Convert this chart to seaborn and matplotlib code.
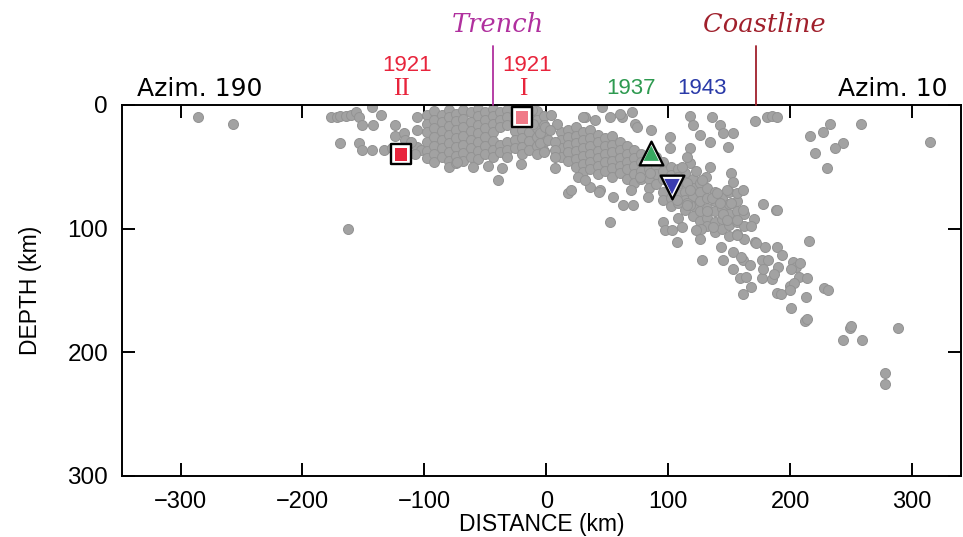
import matplotlib
matplotlib.use("Agg")
import matplotlib.pyplot as plt
import seaborn as sns
import pandas as pd

# ---------------- data: (distance km, depth km) ----------------
outliers = [(-286, 10), (-257, 15), (-163, 100), (315, 30), (233, 15), (258, 15),
            (216, 25), (227, 22), (243, 31), (237, 35), (220, 39), (230, 51),
            (188, 85), (215, 110), (249, 180), (243, 190), (259, 190), (288, 180),
            (278, 217), (278, 226)]

shallow_west = [(-177, 10), (-172, 10), (-169, 9), (-164, 9), (-160, 8), (-156, 6),
                (-154, 10), (-143, 2), (-136, 8), (-151, 16), (-142, 16), (-124, 16),
                (-124, 25), (-117, 23), (-116, 28), (-106, 10), (-106, 34), (-169, 31),
                (-154, 31), (-151, 36), (-143, 36), (-133, 36), (-127, 35), (-103, 36),
                (-108, 40), (-111, 30), (-106, 20)]

dense_trench = [(-98, 8), (-98, 15), (-98, 22), (-98, 30), (-98, 37), (-98, 43),
                (-92, 5), (-92, 12), (-92, 19), (-92, 26), (-92, 33), (-92, 40), (-92, 46),
                (-86, 8), (-86, 14), (-86, 21), (-86, 28), (-86, 35), (-86, 42),
                (-80, 4), (-80, 10), (-80, 17), (-80, 24), (-80, 31), (-80, 38), (-80, 45), (-80, 50),
                (-74, 7), (-74, 13), (-74, 20), (-74, 27), (-74, 34), (-74, 41), (-74, 47),
                (-68, 4), (-68, 11), (-68, 18), (-68, 25), (-68, 32), (-68, 39), (-68, 45),
                (-62, 6), (-62, 14), (-62, 21), (-62, 28), (-62, 35), (-62, 42),
                (-56, 3), (-56, 9), (-56, 16), (-56, 23), (-56, 30), (-56, 37), (-56, 44),
                (-50, 6), (-50, 12), (-50, 19), (-50, 26), (-50, 33), (-50, 40),
                (-44, 3), (-44, 9), (-44, 15), (-44, 22), (-44, 29), (-44, 36), (-44, 42),
                (-38, 6), (-38, 12), (-38, 18), (-38, 32), (-38, 38),
                (-32, 4), (-32, 10), (-32, 16), (-32, 30), (-32, 36), (-32, 42),
                (-26, 7), (-26, 14), (-26, 21), (-26, 28), (-26, 35),
                (-20, 20), (-20, 27), (-20, 34), (-20, 40),
                (-14, 8), (-14, 15), (-14, 22), (-14, 29), (-14, 36),
                (-8, 5), (-8, 12), (-8, 19), (-8, 26), (-8, 33), (-8, 40),
                (-2, 9), (-2, 16), (-2, 23), (-2, 30), (-2, 37),
                (-73, 46), (-48, 49), (-36, 51), (-40, 61), (-21, 48), (-60, 50),
                (-11, 15), (-5, 23), (-1, 18), (-5, 31), (1, 28), (-2, 38), (-12, 4)]

dense_slab = [(12, 22), (12, 28), (12, 35), (12, 42), (7, 30), (7, 36), (7, 42), (7, 51),
              (18, 20), (18, 26), (18, 32), (18, 38), (18, 45),
              (24, 18), (24, 25), (24, 31), (24, 37), (24, 44), (24, 50),
              (30, 22), (30, 28), (30, 35), (30, 41), (30, 48), (30, 54),
              (36, 20), (36, 27), (36, 33), (36, 40), (36, 46), (36, 52),
              (42, 24), (42, 30), (42, 37), (42, 43), (42, 49), (42, 56),
              (48, 27), (48, 33), (48, 40), (48, 46), (48, 53),
              (54, 25), (54, 32), (54, 38), (54, 45), (54, 51), (54, 58),
              (60, 30), (60, 36), (60, 43), (60, 49), (60, 55),
              (66, 33), (66, 40), (66, 46), (66, 52), (66, 60),
              (72, 36), (72, 43), (72, 49), (72, 56), (72, 63),
              (78, 40), (78, 46), (78, 53), (78, 60),
              (84, 45), (84, 52), (84, 60), (84, 67),
              (90, 42), (90, 49), (90, 56), (90, 64),
              (96, 46), (96, 53), (96, 60), (96, 70), (96, 77),
              (102, 50), (102, 57), (102, 75), (102, 82),
              (108, 52), (108, 58), (108, 64), (108, 72), (108, 79),
              (114, 55), (114, 62), (114, 70), (114, 77), (114, 85),
              (120, 60), (120, 67), (120, 74), (120, 82), (120, 90),
              (126, 63), (126, 70), (126, 78), (126, 86), (126, 94),
              (132, 67), (132, 75), (132, 83), (132, 91), (132, 98),
              (138, 70), (138, 78), (138, 86), (138, 95), (138, 103),
              (144, 75), (144, 83), (144, 92), (144, 100),
              (150, 70), (150, 80), (150, 88), (150, 97), (150, 106),
              (156, 78), (156, 86), (156, 95), (156, 104),
              (162, 88), (162, 98), (162, 108)]

slab_scatter = [(18, 71), (20, 69), (36, 66), (44, 69), (55, 74), (63, 81), (71, 81),
                (69, 69), (77, 58), (85, 55), (83, 74), (26, 58), (32, 61), (43, 70),
                (52, 95), (96, 95), (97, 101), (103, 101), (107, 111), (108, 91),
                (118, 81), (127, 100), (111, 99), (115, 79), (132, 86), (136, 75),
                (140, 71), (148, 69), (156, 71), (161, 69), (151, 79), (142, 79),
                (145, 88), (148, 93), (156, 93), (161, 85), (170, 92), (168, 98),
                (156, 105), (137, 99), (123, 101), (126, 108), (178, 80), (189, 85),
                (151, 55), (153, 62), (118, 47), (123, 53), (131, 58), (134, 50),
                (128, 61), (111, 50), (108, 58), (115, 63), (118, 69), (107, 77),
                (115, 81)]

deep_slab = [(128, 125), (143, 115), (153, 119), (145, 125), (153, 133), (161, 125),
             (167, 129), (159, 140), (164, 139), (168, 147), (161, 153), (177, 140),
             (177, 125), (182, 125), (185, 141), (189, 152), (192, 153), (171, 111),
             (179, 115), (189, 115), (193, 121), (190, 131), (187, 137), (202, 127),
             (205, 131), (201, 133), (207, 139), (214, 140), (200, 146), (203, 144),
             (213, 155), (201, 164), (212, 175), (214, 173), (228, 148), (231, 150),
             (250, 179), (160, 123), (172, 112), (178, 133), (200, 150), (208, 128)]

shallow_east = [(46, 2), (32, 10), (52, 10), (62, 10), (70, 6), (73, 15), (74, 18),
                (118, 9), (120, 16), (136, 10), (142, 16), (145, 23), (153, 23),
                (134, 30), (149, 34), (171, 13), (181, 10), (185, 9), (189, 10),
                (126, 24), (118, 35), (115, 42), (101, 26), (101, 35), (86, 20),
                (60, 7), (40, 12), (30, 10), (4, 8), (9, 15), (3, 20)]

events = ["1921 II", "1921 I", "1937", "1943"]
event_dist = [-119, -20, 86, 103]
event_depth = [40, 10, 39, 66]
event_color = ["#e8243c", "#f07a88", "#38a860", "#3a3cb0"]
event_marker = ["s", "s", "^", "v"]

x_ticks = [-300, -200, -100, 0, 100, 200, 300]
y_ticks = [0, 100, 200, 300]
trench_x = -44
coast_x = 172

# ---------------- figure ----------------
sns.set_theme(style="white")
plt.rcParams["font.family"] = ["Liberation Sans", "DejaVu Sans"]
plt.rcParams["text.color"] = "black"
plt.rcParams["axes.labelcolor"] = "black"

fig = plt.figure(figsize=(9.63, 5.37), dpi=100)
ax = fig.add_axes([0.1267, 0.1136, 0.8712, 0.6909])

pts = outliers + shallow_west + dense_trench + dense_slab + slab_scatter + deep_slab + shallow_east
df = pd.DataFrame(pts, columns=["distance", "depth"])
sns.scatterplot(data=df, x="distance", y="depth", ax=ax, s=52, color="#a2a2a2",
                edgecolor="#939393", linewidth=0.7, zorder=2, legend=False)

ev = pd.DataFrame({"event": events, "distance": event_dist, "depth": event_depth})
for i in range(len(ev)):
    sub = ev.iloc[[i]]
    big = 290 if event_marker[i] != "s" else 190
    sns.scatterplot(data=sub, x="distance", y="depth", ax=ax, marker=event_marker[i],
                    s=big, color="white", edgecolor="black", linewidth=1.7, zorder=4, legend=False)
    sns.scatterplot(data=sub, x="distance", y="depth", ax=ax, marker=event_marker[i],
                    s=big * 0.42, color=event_color[i], edgecolor="none", linewidth=0, zorder=5,
                    legend=False)

ax.set_xlim(-348, 340)
ax.set_ylim(300, 0)
ax.set_xticks(x_ticks)
ax.set_yticks(y_ticks)
ax.set_xticklabels([f"{v}".replace("-", "\u2212") for v in x_ticks], fontsize=17)
ax.set_yticklabels([str(v) for v in y_ticks], fontsize=17.5)
ax.tick_params(direction="in", length=9.5, width=1.4, top=True, right=True,
               bottom=True, left=True, labeltop=False, labelright=False,
               colors="black", labelcolor="black")
ax.tick_params(axis="x", pad=11)
ax.tick_params(axis="y", pad=10)
for sp in ax.spines.values():
    sp.set_linewidth(1.4)
    sp.set_color("black")
ax.set_xlabel("DISTANCE (km)", fontsize=16.5, labelpad=0)
ax.set_ylabel("DEPTH (km)", fontsize=16.5, labelpad=18)

# annotations above the top axis
txt = dict(clip_on=False, ha="center", va="center")
ax.text(-336, -13, "Azim. 190", fontsize=18, ha="left", va="center", clip_on=False,
        family="DejaVu Sans")
ax.text(329, -13, "Azim. 10", fontsize=18, ha="right", va="center", clip_on=False,
        family="DejaVu Sans")
ax.text(-114, -32, "1921", fontsize=16, color="#e8243c", **txt)
ax.text(-119, -13, "II", fontsize=18, color="#e8243c", family="Liberation Serif", **txt)
ax.text(-16, -32, "1921", fontsize=16, color="#e8243c", **txt)
ax.text(-19, -13, "I", fontsize=18, color="#e8243c", family="Liberation Serif", **txt)
ax.text(69, -13, "1937", fontsize=16, color="#2e9a50", **txt)
ax.text(128, -13, "1943", fontsize=16, color="#2a3aa8", **txt)
ax.text(trench_x + 4, -65, "Trench", fontsize=18.5, color="#b0309e", style="italic",
        family="DejaVu Serif", **txt)
ax.text(coast_x + 7, -65, "Coastline", fontsize=18.5, color="#a0202c", style="italic",
        family="DejaVu Serif", **txt)
ax.plot([trench_x, trench_x], [0, -48], color="#b0309e", lw=1.3, clip_on=False, zorder=3)
ax.plot([coast_x, coast_x], [0, -48], color="#a0202c", lw=1.3, clip_on=False, zorder=3)

fig.savefig("out.png", dpi=100)
